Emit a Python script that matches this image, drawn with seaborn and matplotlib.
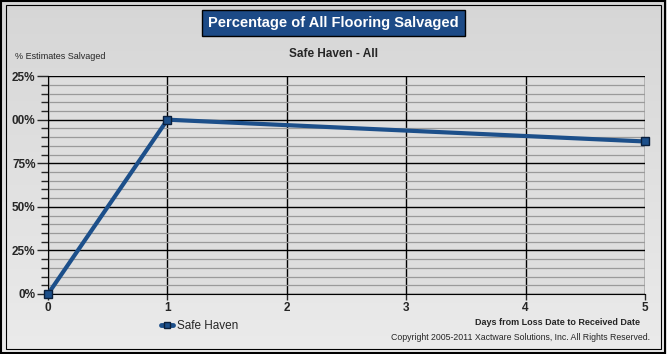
import numpy as np
import matplotlib
matplotlib.use('Agg')
import matplotlib.pyplot as plt
import seaborn as sns
import pandas as pd
from matplotlib.patches import Rectangle

# datos
dias = [0, 1, 5]
porcentaje = [0, 100, 87.5]
serie = 'Safe Haven'
y_ticks = [0, 25, 50, 75, 100, 125]
y_labels = ['0%', '25%', '50%', '75%', '00%', '25%']
x_ticks = [0, 1, 2, 3, 4, 5]

df = pd.DataFrame({'Dias': dias, 'Pct': porcentaje, 'Serie': serie})

sns.set_style('white')
plt.rcParams['font.family'] = ['Liberation Sans', 'DejaVu Sans']

fig = plt.figure(figsize=(6.67, 3.54), dpi=100)
fig.patch.set_facecolor('#dcdcdc')

# fondo degradado
bg = fig.add_axes([0, 0, 1, 1], zorder=-10)
grad = np.linspace(0, 1, 256).reshape(-1, 1) * np.ones((1, 256))
bg.imshow(grad, cmap=matplotlib.colors.LinearSegmentedColormap.from_list('g', ['#d6d6d6', '#ebebeb']),
          aspect='auto', extent=[0, 1, 0, 1], origin='upper')
bg.axis('off')

ax = fig.add_axes([0.072, 0.1695, 0.895, 0.6155])
ax.set_facecolor('#dedede')

sns.lineplot(data=df, x='Dias', y='Pct', hue='Serie', palette=['#1c4f8a'], ax=ax,
             linewidth=3, marker='s', markersize=6, markeredgecolor='#0a1f3c',
             markeredgewidth=1, legend=False, zorder=5)
for ln in ax.lines:
    ln.set_clip_on(False)

ax.set_xlim(0, 5)
ax.set_ylim(0, 125)
ax.set_xticks(x_ticks)
ax.set_xticklabels([str(t) for t in x_ticks], fontweight='bold', fontsize=8.5)
ax.set_yticks(y_ticks)
ax.set_yticklabels(y_labels, fontweight='bold', fontsize=8.5)
ax.set_yticks(np.arange(0, 126, 5), minor=True)
ax.grid(which='minor', axis='y', color='#9a9a9a', linewidth=0.9)
ax.grid(which='major', axis='both', color='black', linewidth=1)
ax.set_axisbelow(True)
ax.tick_params(axis='y', which='major', length=8, width=1, direction='out', left=True, pad=1)
ax.tick_params(axis='y', which='minor', length=5, width=1, direction='out', left=True)
ax.tick_params(axis='x', which='major', length=4, width=1, direction='out', bottom=True, pad=2)
for s in ax.spines.values():
    s.set_visible(False)
ax.spines['left'].set_visible(True)
ax.spines['bottom'].set_visible(True)
ax.spines['left'].set_color('black')
ax.spines['bottom'].set_color('black')
ax.set_xlabel('')
ax.set_ylabel('')

# titulo en caja azul
fig.text(0.5, 0.935, 'Percentage of All Flooring Salvaged', ha='center', va='center',
         color='white', fontsize=10.5, fontweight='bold',
         bbox=dict(boxstyle='square,pad=0.4', facecolor='#1c4a86', edgecolor='black', linewidth=1))
fig.text(0.5, 0.848, 'Safe Haven - All', ha='center', va='center', fontsize=8.5, fontweight='bold')
fig.text(0.022, 0.84, '% Estimates Salvaged', ha='left', va='center', fontsize=6.5)
fig.text(0.96, 0.088, 'Days from Loss Date to Received Date', ha='right', va='center',
         fontsize=6.5, fontweight='bold')
fig.text(0.974, 0.048, 'Copyright 2005-2011 Xactware Solutions, Inc. All Rights Reserved.',
         ha='right', va='center', fontsize=6.3)

# leyenda
h = [plt.Line2D([], [], color='#1c4f8a', linewidth=3.5, marker='s', markersize=4,
                markeredgecolor='#0a1f3c')]
fig.legend(h, [serie], loc='center left', bbox_to_anchor=(0.225, 0.08), frameon=False,
           fontsize=8.5, handlelength=1.0, handletextpad=0.4)

# marco doble
fig.patches.append(Rectangle((0.002, 0.003), 0.995, 0.994, transform=fig.transFigure,
                             fill=False, edgecolor='black', linewidth=1.5))
fig.patches.append(Rectangle((0.009, 0.014), 0.982, 0.972, transform=fig.transFigure,
                             fill=False, edgecolor='black', linewidth=0.8))

fig.savefig('out.png', dpi=100)
